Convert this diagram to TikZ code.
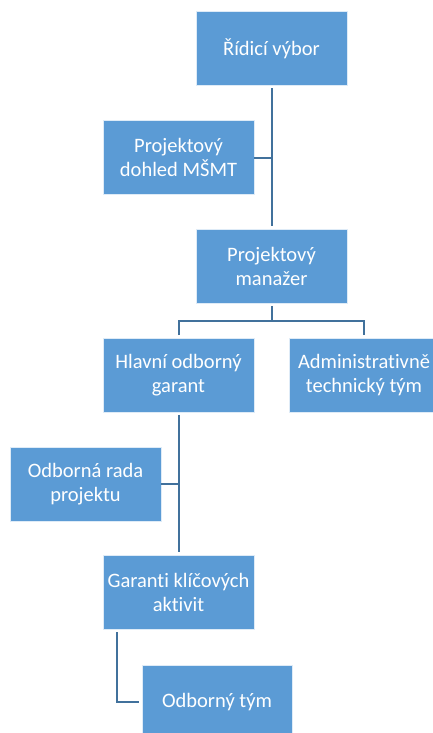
\documentclass[tikz,border=0pt]{standalone}
\usepackage{fontspec}
\setmainfont{Carlito}[RawFeature=-liga]
\definecolor{boxblue}{HTML}{5B9BD5}
\definecolor{lineblue}{HTML}{41719C}
\begin{document}
\begin{tikzpicture}[x=1pt,y=-1pt,
  orgbox/.style={rectangle, fill=boxblue, draw=white!80!boxblue, line width=0.6pt,
    minimum width=151pt, minimum height=74pt, inner sep=2pt, align=center,
    text=white, font=\fontsize{20.5}{24}\selectfont},
  conn/.style={draw=lineblue, line width=2pt}]
\clip (0,0) rectangle (433,733);
\fill[white] (0,0) rectangle (433,733);
\node[orgbox] (ridici) at (271.5,48.5) {Řídicí výbor};
\node[orgbox] (dohled) at (178.5,157.5) {Projektový\\dohled MŠMT};
\node[orgbox] (manazer) at (271.5,266) {Projektový\\manažer};
\node[orgbox] (hlavni) at (178.5,375) {Hlavní odborný\\garant};
\node[orgbox, minimum width=150pt] (admin) at (364,375) {Administrativně\\technický tým};
\node[orgbox] (rada) at (85.5,484) {Odborná rada\\projektu};
\node[orgbox] (garanti) at (178.5,592.5) {Garanti klíčových\\aktivit};
\node[orgbox, minimum width=150pt] (tym) at (217,702) {Odborný tým};
\coordinate (split) at (271.5,321);
\draw[conn, shorten <=2.5pt, shorten >=2.5pt] (ridici.south) -- (manazer.north);
\draw[conn] (dohled.east) -- (dohled.east -| ridici.south);
\draw[conn, shorten <=2.5pt] (manazer.south) -- (split);
\draw[conn, shorten <=2.5pt, shorten >=2.5pt] (hlavni.north) |- (split) -| (admin.north);
\draw[conn, shorten <=2.5pt, shorten >=3pt] (hlavni.south) -- (garanti.north);
\draw[conn] (rada.east) -- (rada.east -| hlavni.south);
\draw[conn, shorten <=2.5pt, shorten >=3pt] ([xshift=14pt]garanti.south west) |- (tym.west);
\end{tikzpicture}
\end{document}
